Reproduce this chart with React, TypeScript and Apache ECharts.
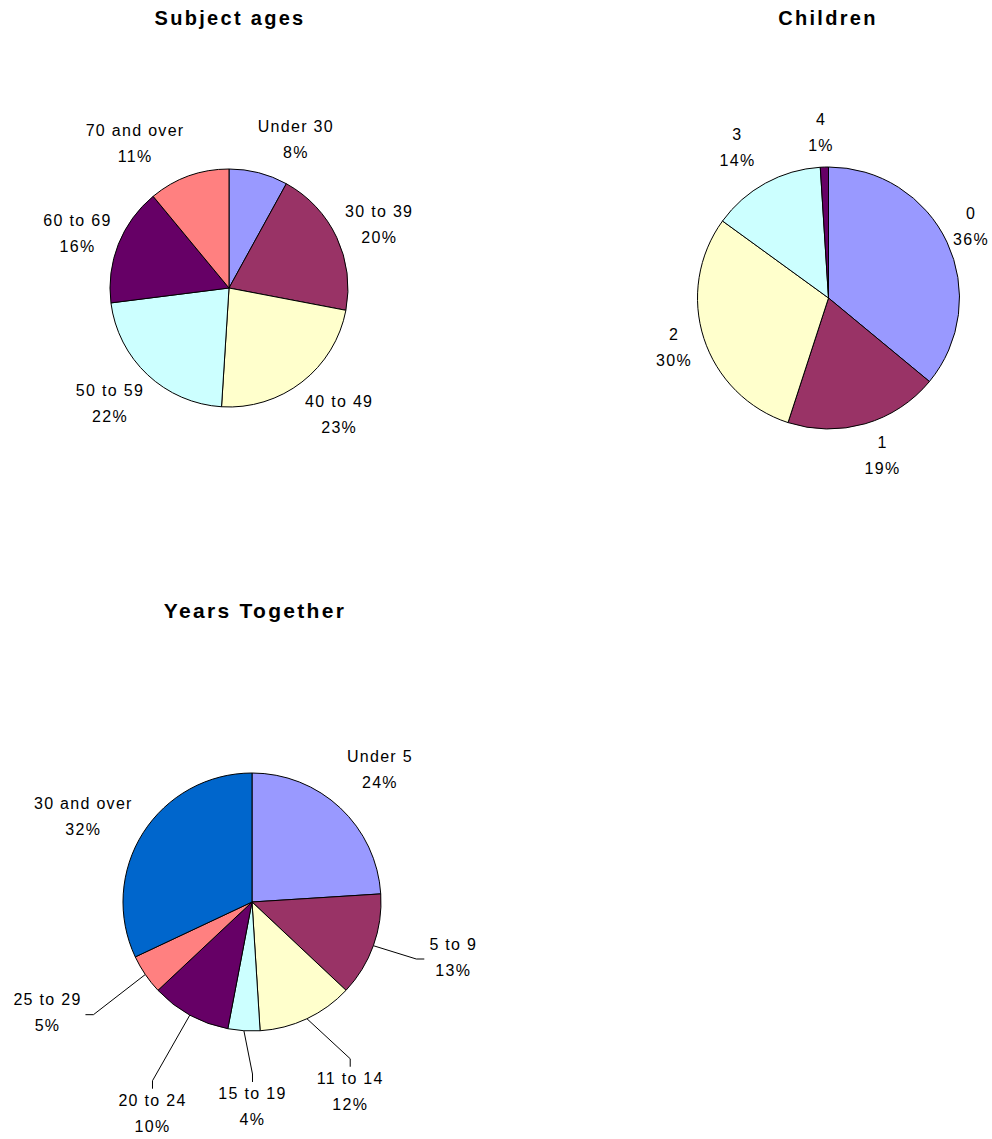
import React, { useEffect, useRef } from 'react';
import * as echarts from 'echarts';

// ---- data ----
const ageCategories = ['Under 30', '30 to 39', '40 to 49', '50 to 59', '60 to 69', '70 and over'];
const ageValues = [8, 20, 23, 22, 16, 11];

const childCategories = ['0', '1', '2', '3', '4'];
const childValues = [36, 19, 30, 14, 1];

const yearsCategories = ['Under 5', '5 to 9', '11 to 14', '15 to 19', '20 to 24', '25 to 29', '30 and over'];
const yearsValues = [24, 13, 12, 4, 10, 5, 32];

const chartTitles = ['Subject ages', 'Children', 'Years Together'];

// ---- layout / style ----
const FONT = '"Liberation Sans", Arial, sans-serif';
const palette = ['#9999FF', '#993366', '#FFFFCC', '#CCFFFF', '#660066', '#FF8080', '#0066CC'];
const titlePositions = [[230, 18], [828, 18], [255, 610]];
const titleSizes = [20, 20, 21];

// [labelLine length, labelLine length2] per slice, used to place labels
const ageLabelOffsets = [[34.3, -9.2], [31.3, -19.7], [40.5, -21.5], [40.1, -23.8], [30.4, -21.3], [35.1, -5.5]];
const childLabelOffsets = [[38.1, -31.5], [33.3, -12.8], [29.2, -18.9], [40.7, -12.7], [34.6, -14.3]];
const yearsLabelOffsets = [[52.1, -29.5], [33.4, 23.5], [80.7, -24.4], [76.4, -47.3], [112.6, -50.8], [67.9, 7.7], [30.9, -13.6]];
const yearsLeader = ['none', 'side', 'below', 'below', 'below', 'side', 'none'];

function pieSeries(
  names: string[],
  values: number[],
  center: number[],
  radius: number,
  offsets: number[][],
  leader?: string[]
) {
  const s: any = {
    type: 'pie',
    center,
    radius,
    startAngle: 90,
    clockwise: true,
    avoidLabelOverlap: false,
    silent: true,
    emphasis: { disabled: true },
    itemStyle: { borderColor: '#000', borderWidth: 1 },
    label: {
      show: true,
      position: 'outside',
      color: '#000',
      fontFamily: FONT,
      fontSize: 16,
      distanceToLabelLine: 5,
      formatter: (p: any) => `{t|${p.name}}\n{t|${p.value}%}`,
      rich: {
        t: { align: 'center', fontFamily: FONT, fontSize: 16, lineHeight: 26, color: '#000' },
      },
    },
    labelLine: { show: false, lineStyle: { color: '#000', width: 1 } },
    data: names.map((n, i) => ({
      name: n,
      value: values[i],
      itemStyle: { color: palette[i] },
      labelLine: {
        show: leader ? leader[i] !== 'none' : false,
        length: offsets[i][0],
        length2: offsets[i][1],
        lineStyle: { color: '#000', width: 1 },
      },
    })),
  };
  if (leader) {
    s.labelLayout = (params: any) => {
      const kind = leader[params.dataIndex];
      const pts = params.labelLinePoints;
      if (kind === 'none' || !pts) return {};
      const r = params.labelRect;
      const p0 = pts[0];
      if (kind === 'below') {
        const mx = r.x + r.width / 2;
        return { labelLinePoints: [p0, [mx, r.y - 12], [mx, r.y - 4]] };
      }
      const my = r.y + r.height / 2 + 2;
      const toRight = p0[0] < r.x;
      const ex = toRight ? r.x - 9 : r.x + r.width + 9;
      const bx = toRight ? ex - 8 : ex + 8;
      return { labelLinePoints: [p0, [bx, my], [ex, my]] };
    };
  }
  return s;
}

export default function App() {
  const ref = useRef<HTMLDivElement>(null);
  useEffect(() => {
    document.body.style.margin = '0';
    const chart = echarts.init(ref.current as HTMLDivElement, null, { renderer: 'svg' });
    chart.setOption({
      animation: false,
      backgroundColor: '#fff',
      graphic: chartTitles.map((t, i) => ({
        type: 'text',
        x: titlePositions[i][0],
        y: titlePositions[i][1],
        style: {
          text: t,
          font: `bold ${titleSizes[i]}px ${FONT}`,
          fill: '#000',
          align: 'center',
          textAlign: 'center',
          verticalAlign: 'middle',
          textVerticalAlign: 'middle',
        },
      })),
      series: [
        pieSeries(ageCategories, ageValues, [229, 288], 119, ageLabelOffsets),
        pieSeries(childCategories, childValues, [828.5, 298], 131, childLabelOffsets),
        pieSeries(yearsCategories, yearsValues, [252, 902], 129, yearsLabelOffsets, yearsLeader),
      ],
    });
    return () => chart.dispose();
  }, []);
  return (
    <>
      <style>{`#pies text { letter-spacing: 1.3px; } #pies text[style*="bold"] { letter-spacing: 2.3px; }`}</style>
      <div id="pies" ref={ref} style={{ width: 992, height: 1139 }} />
    </>
  );
}
